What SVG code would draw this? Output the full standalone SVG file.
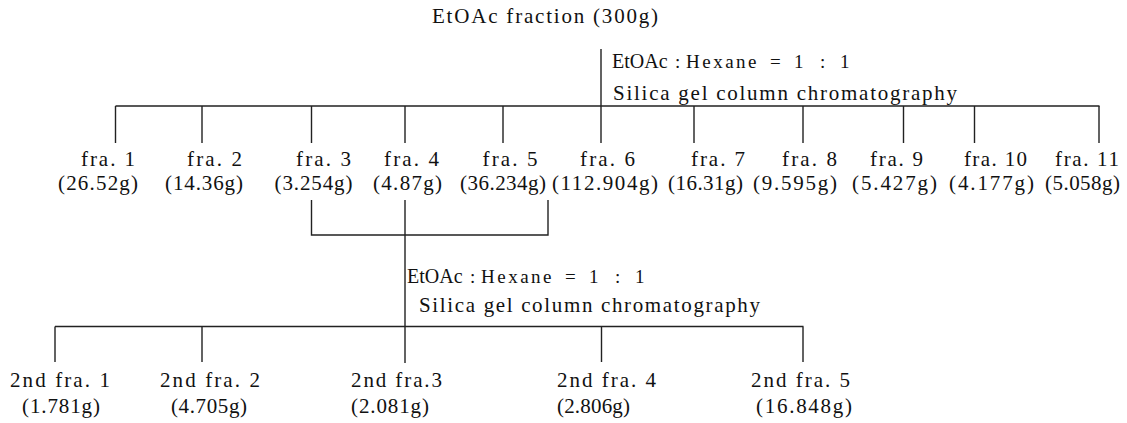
<svg xmlns="http://www.w3.org/2000/svg" width="1127" height="423" viewBox="0 0 1127 423">
<style>
text{font-family:"Liberation Serif","Times New Roman",serif;font-size:21px;fill:#111}
.et{font-size:20px}
.sm{font-size:19px}
.hx{letter-spacing:2.5px}
.ln{stroke:#222;stroke-width:1.4;fill:none}
</style>
<rect width="1127" height="423" fill="#fff"/>
<g id="connectors" class="ln">
<path d="M601 49V143M115.5 106H1099.5"/>
<path d="M115.5 106V143M202 106V143M311.5 106V143M405 106V143M503 106V143M694 106V143M803 106V143M903.5 106V143M974.5 106V143M1099 106V143"/>
<path d="M311.5 200V235H548V200M405 200V363"/>
<path d="M55 326.5H803.5M55 326.5V362M202 326.5V362M601.5 326.5V362M803 326.5V362"/>
</g>
<g id="root"><text x="432" y="23" textLength="226" lengthAdjust="spacing">EtOAc fraction (300g)</text></g>
<g id="cond1">
<text y="68"><tspan class="et" x="612">EtOAc </tspan><tspan class="sm" x="675">: </tspan><tspan class="sm hx" x="686">Hexane </tspan><tspan class="sm" x="770">= </tspan><tspan class="sm" x="794">1 </tspan><tspan class="sm" x="820">: </tspan><tspan class="sm" x="840">1</tspan></text>
<text x="613" y="100" textLength="344" lengthAdjust="spacing">Silica gel column chromatography</text>
</g>
<g id="fra1"><text x="81" y="166" textLength="54" lengthAdjust="spacing">fra. 1</text><text x="58" y="190" textLength="80" lengthAdjust="spacing">(26.52g)</text></g>
<g id="fra2"><text x="187" y="166" textLength="55" lengthAdjust="spacing">fra. 2</text><text x="165" y="190" textLength="78" lengthAdjust="spacing">(14.36g)</text></g>
<g id="fra3"><text x="296" y="166" textLength="55" lengthAdjust="spacing">fra. 3</text><text x="274.5" y="190" textLength="78" lengthAdjust="spacing">(3.254g)</text></g>
<g id="fra4"><text x="384" y="166" textLength="55" lengthAdjust="spacing">fra. 4</text><text x="373" y="190" textLength="69" lengthAdjust="spacing">(4.87g)</text></g>
<g id="fra5"><text x="482.5" y="166" textLength="55" lengthAdjust="spacing">fra. 5</text><text x="460" y="190" textLength="86" lengthAdjust="spacing">(36.234g)</text></g>
<g id="fra6"><text x="580" y="166" textLength="55" lengthAdjust="spacing">fra. 6</text><text x="552" y="190" textLength="106" lengthAdjust="spacing">(112.904g)</text></g>
<g id="fra7"><text x="691" y="166" textLength="54" lengthAdjust="spacing">fra. 7</text><text x="668" y="190" textLength="75" lengthAdjust="spacing">(16.31g)</text></g>
<g id="fra8"><text x="782" y="166" textLength="55" lengthAdjust="spacing">fra. 8</text><text x="753" y="190" textLength="84" lengthAdjust="spacing">(9.595g)</text></g>
<g id="fra9"><text x="870" y="166" textLength="53" lengthAdjust="spacing">fra. 9</text><text x="852" y="190" textLength="85" lengthAdjust="spacing">(5.427g)</text></g>
<g id="fra10"><text x="964" y="166" textLength="63" lengthAdjust="spacing">fra. 10</text><text x="949" y="190" textLength="85" lengthAdjust="spacing">(4.177g)</text></g>
<g id="fra11"><text x="1055" y="166" textLength="64" lengthAdjust="spacing">fra. 11</text><text x="1045" y="190" textLength="75" lengthAdjust="spacing">(5.058g)</text></g>
<g id="cond2">
<text y="283"><tspan class="et" x="407">EtOAc </tspan><tspan class="sm" x="470">: </tspan><tspan class="sm hx" x="481">Hexane </tspan><tspan class="sm" x="565">= </tspan><tspan class="sm" x="589">1 </tspan><tspan class="sm" x="615">: </tspan><tspan class="sm" x="635">1</tspan></text>
<text x="419" y="312" textLength="341" lengthAdjust="spacing">Silica gel column chromatography</text>
</g>
<g id="sfra1"><text x="10" y="387" textLength="100" lengthAdjust="spacing">2nd fra. 1</text><text x="22" y="413" textLength="78" lengthAdjust="spacing">(1.781g)</text></g>
<g id="sfra2"><text x="160" y="387" textLength="100" lengthAdjust="spacing">2nd fra. 2</text><text x="171" y="413" textLength="76" lengthAdjust="spacing">(4.705g)</text></g>
<g id="sfra3"><text x="351" y="387" textLength="91" lengthAdjust="spacing">2nd fra.3</text><text x="351" y="413" textLength="78" lengthAdjust="spacing">(2.081g)</text></g>
<g id="sfra4"><text x="557" y="387" textLength="99" lengthAdjust="spacing">2nd fra. 4</text><text x="557" y="413" textLength="73" lengthAdjust="spacing">(2.806g)</text></g>
<g id="sfra5"><text x="751" y="387" textLength="99" lengthAdjust="spacing">2nd fra. 5</text><text x="756" y="413" textLength="96" lengthAdjust="spacing">(16.848g)</text></g>
</svg>
